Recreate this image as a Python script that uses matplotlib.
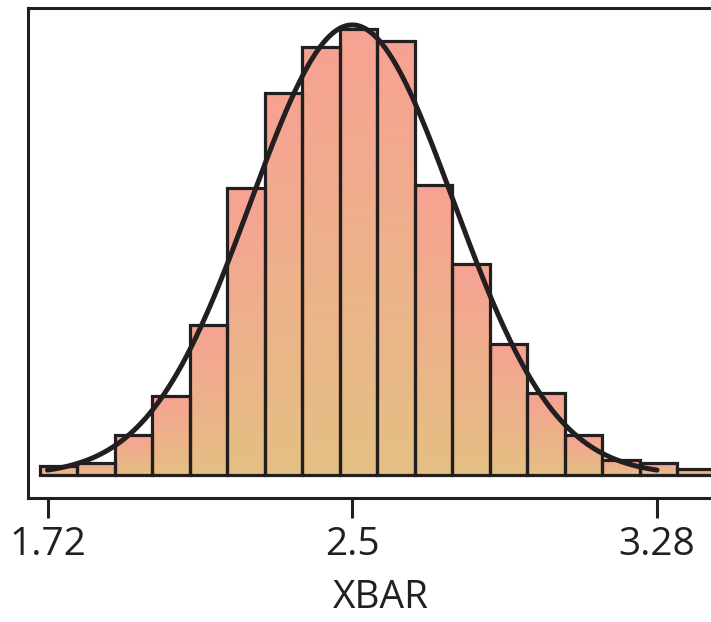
import numpy as np
import matplotlib
matplotlib.use('Agg')
import matplotlib.pyplot as plt
from matplotlib.colors import LinearSegmentedColormap

# histogram of sample means (bin edges start at 1.70, width 0.096)
bin_start = 1.70
bin_width = 0.096
counts = [3, 4, 13, 26, 49, 94, 125, 140, 146, 142, 95, 69, 43, 27, 13, 5, 4, 2]
mu, sigma = 2.5, 0.26
tick_values = [1.72, 2.5, 3.28]
tick_labels = ['1.72', '2.5', '3.28']

ink = '#231f20'
plt.rcParams['font.family'] = ['Open Sans', 'DejaVu Sans']

fig = plt.figure(figsize=(7.11, 6.22), dpi=100)
ax = fig.add_axes([27.5 / 711, (622 - 498) / 622, (740 - 27.5) / 711, (498 - 7.5) / 622])

edges = bin_start + bin_width * np.arange(len(counts) + 1)
bars = ax.bar(edges[:-1], counts, width=bin_width, align='edge',
              facecolor='none', edgecolor=ink, linewidth=2.3, zorder=3)

# per-bar vertical gradient: tan at bottom, salmon at top
cmap = LinearSegmentedColormap.from_list('bar', ['#e4c083', '#f7a293'])
grad = np.linspace(0, 1, 256).reshape(-1, 1)
for rect, c, x0 in zip(bars, counts, edges[:-1]):
    im = ax.imshow(grad, extent=[x0, x0 + bin_width, 0, c], origin='lower',
                   aspect='auto', cmap=cmap, zorder=2)
    im.set_clip_path(rect)

# fitted normal curve, scaled to counts
xs = np.linspace(mu - 3 * sigma, mu + 3 * sigma, 400)
pdf = np.exp(-0.5 * ((xs - mu) / sigma) ** 2) / (sigma * np.sqrt(2 * np.pi))
ax.plot(xs, pdf * sum(counts) * bin_width, color=ink, linewidth=3.6, zorder=4,
        solid_capstyle='round')

ax.set_xlim(1.72 + (27.5 - 47.5) / 390.7, 1.72 + (740 - 47.5) / 390.7)
ax.set_ylim(-7.5, 153.0)

ax.set_yticks([])
ax.set_xticks(tick_values)
ax.set_xticklabels(tick_labels)
ax.tick_params(axis='x', direction='out', length=14.5, width=2.2, color=ink,
               labelsize=28, labelcolor=ink, pad=6)
for side in ['left', 'top', 'bottom']:
    ax.spines[side].set_color(ink)
    ax.spines[side].set_linewidth(2.2)
ax.spines['right'].set_visible(False)

ax.set_xlabel('XBAR', fontsize=28, color=ink, va='baseline')
ax.xaxis.set_label_coords((381 - 27.5) / 712.5, (498 - 608) / 490.5)

fig.savefig('out.png', dpi=100)
